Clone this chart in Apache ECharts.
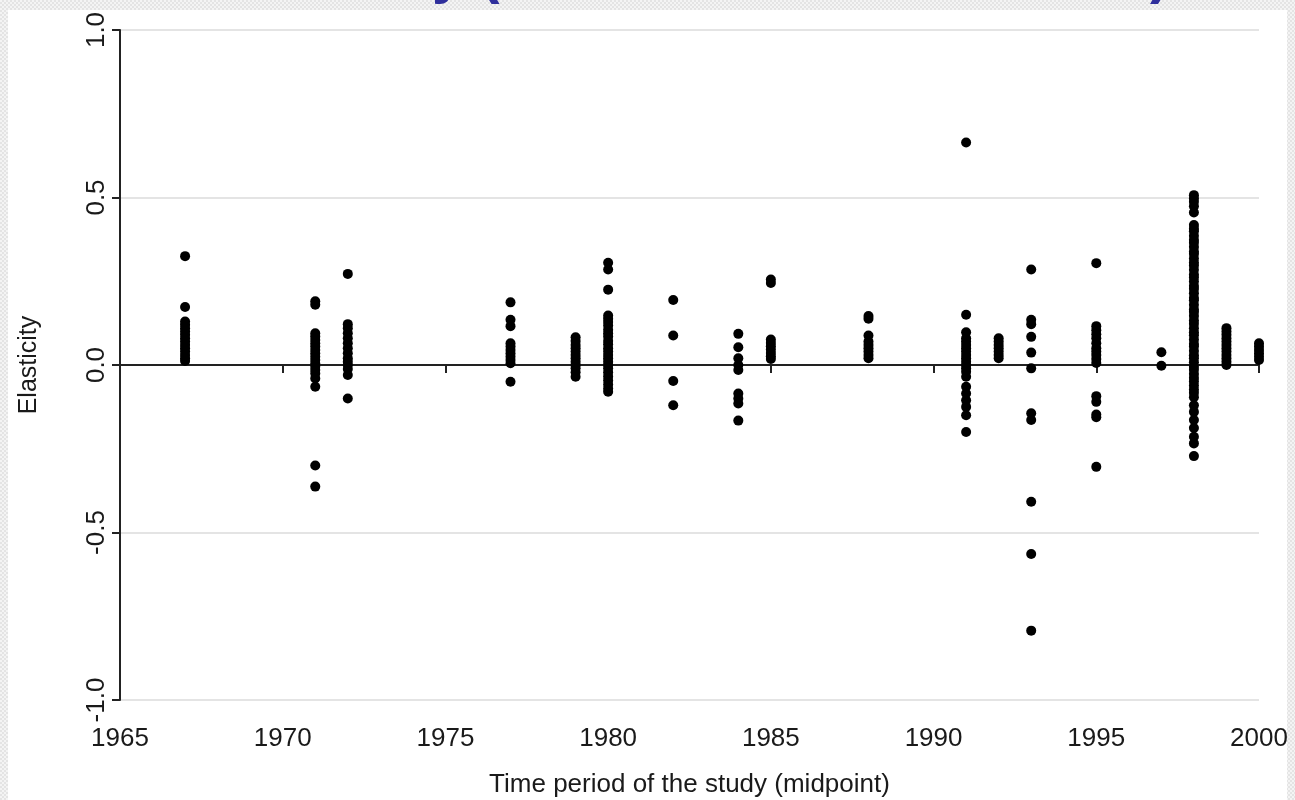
<!DOCTYPE html>
<html>
<head>
<meta charset="utf-8">
<script src="https://cdn.jsdelivr.net/npm/echarts@6/dist/echarts.min.js"></script>
<style>
  html, body {
    margin: 0;
    padding: 0;
    background: repeating-conic-gradient(#e4e4e4 0 25%, #f4f4f4 0 50%) 0 0 / 4px 4px;
  }
  #chart {
    width: 1295px;
    height: 800px;
  }
</style>
</head>
<body>
<div id="chart"></div>
<script>
// elasticity estimates per study, grouped by midpoint year
const years = [1967, 1971, 1972, 1977, 1979, 1980, 1982, 1984, 1985, 1988, 1991, 1992, 1993, 1995, 1997, 1998, 1999, 2000];

const e1967 = [0.325, 0.173, 0.13, 0.12, 0.11, 0.10, 0.09, 0.08, 0.07, 0.06, 0.05, 0.04, 0.03, 0.02, 0.012];
const e1971 = [0.19, 0.18, 0.095, 0.085, 0.075, 0.065, 0.055, 0.045, 0.035, 0.025, 0.015, 0.005, -0.005, -0.015, -0.025, -0.04, -0.065, -0.30, -0.363];
const e1972 = [0.272, 0.122, 0.11, 0.095, 0.08, 0.065, 0.05, 0.035, 0.02, 0.01, 0.0, -0.012, -0.03, -0.10];
const e1977 = [0.187, 0.135, 0.116, 0.065, 0.055, 0.045, 0.035, 0.025, 0.015, 0.005, -0.05];
const e1979 = [0.083, 0.072, 0.06, 0.05, 0.04, 0.03, 0.02, 0.01, 0.0, -0.01, -0.022, -0.035];
const e1980 = [0.305, 0.285, 0.225, 0.148, 0.138, 0.128, 0.118, 0.105, 0.095, 0.085, 0.072, 0.062, 0.05, 0.04, 0.03, 0.02, 0.01, 0.0, -0.01, -0.022, -0.034, -0.046, -0.058, -0.07, -0.08];
const e1982 = [0.194, 0.088, -0.048, -0.12];
const e1984 = [0.093, 0.053, 0.02, 0.0, -0.015, -0.085, -0.10, -0.115, -0.166];
const e1985 = [0.255, 0.245, 0.076, 0.066, 0.056, 0.046, 0.036, 0.026, 0.018];
const e1988 = [0.146, 0.138, 0.088, 0.07, 0.06, 0.05, 0.04, 0.03, 0.02];
const e1991 = [0.664, 0.15, 0.098, 0.08, 0.07, 0.06, 0.05, 0.04, 0.03, 0.02, 0.01, 0.0, -0.01, -0.02, -0.035, -0.065, -0.085, -0.105, -0.125, -0.15, -0.2];
const e1992 = [0.08, 0.07, 0.06, 0.05, 0.04, 0.03, 0.02];
const e1993 = [0.285, 0.135, 0.122, 0.084, 0.037, -0.01, -0.144, -0.164, -0.408, -0.564, -0.793];
const e1995 = [0.304, 0.116, 0.104, 0.092, 0.08, 0.065, 0.05, 0.04, 0.03, 0.018, 0.006, -0.093, -0.11, -0.148, -0.156, -0.304];
const e1997 = [0.038, -0.002];
const e1998 = [0.507, 0.497, 0.487, 0.474, 0.455, 0.418, 0.407, 0.399, 0.386, 0.373, 0.365, 0.352, 0.339, 0.331, 0.318, 0.306, 0.297, 0.284, 0.27, 0.261, 0.249, 0.236, 0.227, 0.214, 0.201, 0.193, 0.18, 0.166, 0.158, 0.146, 0.133, 0.123, 0.11, 0.098, 0.089, 0.076, 0.063, 0.055, 0.042, 0.029, 0.02, 0.008, -0.005, -0.014, -0.027, -0.039, -0.049, -0.061, -0.073, -0.083, -0.096, -0.12, -0.14, -0.164, -0.188, -0.214, -0.234, -0.272];
const e1999 = [0.11, 0.1, 0.09, 0.08, 0.07, 0.06, 0.05, 0.04, 0.03, 0.02, 0.01, 0.0];
const e2000 = [0.065, 0.055, 0.045, 0.035, 0.025, 0.015];

const columns = [e1967, e1971, e1972, e1977, e1979, e1980, e1982, e1984, e1985, e1988, e1991, e1992, e1993, e1995, e1997, e1998, e1999, e2000];

const yTicks = ['-1.0', '-0.5', '0.0', '0.5', '1.0'];

const points = [];
years.forEach((year, i) => {
  columns[i].forEach(v => points.push([year, v]));
});

const font = '"Liberation Sans", Arial, sans-serif';
const ink = '#1a1a1a';

const chart = echarts.init(document.getElementById('chart'), null, { renderer: 'canvas' });

chart.setOption({
  animation: false,
  backgroundColor: 'transparent',
  textStyle: { fontFamily: font },
  grid: {
    left: 120,
    right: 36,
    top: 30,
    bottom: 100,
    outerBoundsMode: 'none',
  },
  graphic: [
    {
      type: 'rect',
      z: -10,
      silent: true,
      shape: { x: 8, y: 10, width: 1279, height: 790 },
      style: { fill: '#ffffff' },
    },
    {
      // bottom edge of the slide title, cut off by the frame
      type: 'text',
      z: 10,
      silent: true,
      style: {
        x: 432,
        y: 5,
        text: 'y (',
        fill: '#2f2f9c',
        font: 'bold 58px ' + font,
        verticalAlign: 'bottom',
      },
    },
    {
      type: 'text',
      z: 10,
      silent: true,
      style: {
        x: 1150,
        y: 5,
        text: ')',
        fill: '#2f2f9c',
        font: 'bold 58px ' + font,
        verticalAlign: 'bottom',
      },
    },
  ],
  xAxis: [
    {
      // zero line with ticks
      type: 'value',
      min: 1965,
      max: 2000,
      interval: 5,
      axisLine: { show: true, onZero: true, lineStyle: { color: '#222', width: 2 } },
      axisTick: { show: true, length: 8, lineStyle: { color: '#222', width: 2 } },
      axisLabel: { show: false },
      splitLine: { show: false },
    },
    {
      type: 'value',
      position: 'bottom',
      min: 1965,
      max: 2000,
      interval: 5,
      axisLine: { show: false },
      axisTick: { show: false },
      axisLabel: { show: true, color: ink, fontSize: 26, margin: 26, formatter: v => String(v) },
      splitLine: { show: false },
      name: 'Time period of the study (midpoint)',
      nameLocation: 'middle',
      nameGap: 72,
      nameTextStyle: { color: ink, fontSize: 26 },
    },
  ],
  yAxis: {
    type: 'value',
    min: -1,
    max: 1,
    interval: 0.5,
    axisLine: { show: true, lineStyle: { color: '#222', width: 2 } },
    axisTick: { show: true, length: 8, lineStyle: { color: '#222', width: 2 } },
    axisLabel: {
      color: ink,
      fontSize: 26,
      rotate: 90,
      margin: 10,
      formatter: v => yTicks[Math.round((v + 1) / 0.5)],
    },
    splitLine: { show: true, lineStyle: { color: '#e4e4e4', width: 2 } },
    name: 'Elasticity',
    nameLocation: 'middle',
    nameGap: 78,
    nameTextStyle: { color: ink, fontSize: 25 },
  },
  series: [
    {
      type: 'scatter',
      xAxisIndex: 0,
      yAxisIndex: 0,
      symbol: 'circle',
      symbolSize: 10,
      itemStyle: { color: '#000', opacity: 1 },
      data: points,
    },
  ],
});
</script>
</body>
</html>
